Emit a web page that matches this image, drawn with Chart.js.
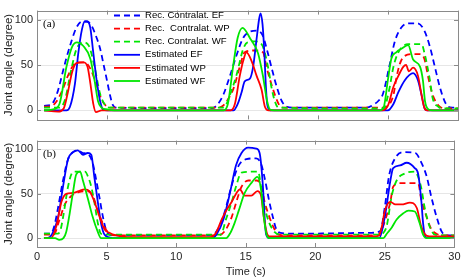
<!DOCTYPE html>
<html>
<head>
<meta charset="utf-8">
<script src="https://cdn.jsdelivr.net/npm/chart.js@4.4.0/dist/chart.umd.min.js"></script>
<style>
  html, body { margin: 0; padding: 0; background: #fff; }
  #wrap { position: relative; width: 464px; height: 280px; overflow: hidden; }
  canvas { position: absolute; left: 0; }
  #chartA { top: 0; }
  #chartB { top: 130px; }
</style>
</head>
<body>
<div id="wrap">
  <canvas id="chartA" width="464" height="130"></canvas>
  <canvas id="chartB" width="464" height="150"></canvas>
</div>
<script>
const xTicks = [0, 5, 10, 15, 20, 25, 30];
const yTicks = [0, 50, 100];
const seriesLabels = ['Rec. Contralat. EF', 'Rec.  Contralat. WP', 'Rec. Contralat. WF',
                      'Estimated EF', 'Estimated WP', 'Estimated WF'];
const seriesColors = ['#0000ff', '#ff0000', '#00e600', '#0000ff', '#ff0000', '#00e600'];
const seriesDashed = [true, true, true, false, false, false];

// panel (a)  [time s, angle deg]
const aRecEF = [[0.5,5],[1.0,6],[1.2,10],[1.5,22],[1.8,40],[2.1,58],[2.45,76],[2.8,91],[3.2,98],[3.55,98],[3.9,93],[4.2,82],[4.5,68],[4.75,50],[5.0,32],[5.2,17],[5.4,6],[5.6,3],[8,2.5],[12.5,2.5],[12.9,7],[13.3,18],[13.75,38],[14.2,60],[14.7,80],[15.2,87],[15.7,88],[16.1,82],[16.4,66],[16.75,45],[17.1,25],[17.45,10],[17.8,4],[18.2,3],[23.5,3],[23.95,6],[24.3,10],[24.65,18],[25.1,48],[25.5,76],[25.95,91],[26.5,96],[27.1,96],[27.6,88],[28.0,70],[28.35,48],[28.7,26],[29.05,10],[29.3,4],[29.6,3],[30,3]];
const aRecWP = [[0.5,4],[1.0,4.5],[1.4,10],[1.8,22],[2.2,38],[2.6,50],[3.0,53],[3.4,53],[3.8,46],[4.2,30],[4.6,12],[5.0,4],[5.3,3],[12.8,3],[13.25,5],[13.6,12],[14.0,24],[14.45,48],[14.8,64],[15.5,66],[16.1,64],[16.35,48],[16.7,29],[17.05,13],[17.3,5],[17.6,3],[24.5,3],[24.9,4],[25.4,17],[25.6,35],[25.85,51],[26.2,60],[26.8,62],[27.3,62],[27.6,57],[27.9,35],[28.2,17],[28.7,4],[29.2,2],[30,2]];
const aRecWF = [[0.5,3],[1.6,3],[2.0,12],[2.4,42],[2.8,67],[3.3,75],[3.7,71],[4.1,48],[4.5,18],[4.9,5],[5.2,3],[13.2,3],[13.5,7],[13.75,17],[14.2,38],[14.7,68],[15.0,75],[15.5,76],[16.0,73],[16.5,45],[16.7,26],[16.95,10],[17.2,3],[24.5,2],[24.7,2],[25.1,23],[25.4,48],[25.75,64],[26.45,73],[27.4,73],[27.6,64],[28.0,33],[28.2,13],[28.6,4],[29.0,2],[30,2]];
const aEstEF = [[0.5,0],[2.1,0],[2.35,4],[2.7,29],[2.95,64],[3.2,89],[3.4,98],[3.6,98],[3.8,91],[4.0,65],[4.25,33],[4.5,10],[4.7,1],[5.0,0],[14.0,0],[14.3,7],[14.58,20],[14.8,32],[15.17,35],[15.4,48],[15.65,79],[15.83,101],[15.93,107],[16.07,95],[16.2,64],[16.3,29],[16.4,7],[16.6,0],[25.0,0],[25.4,7],[25.75,20],[26.2,33],[26.8,41],[27.15,33],[27.4,17],[27.6,3],[27.8,0],[30,0]];
const aEstWP = [[0.5,0],[1.5,-1.5],[1.9,2],[2.2,20],[2.5,42],[2.8,52],[3.3,53],[3.6,48],[3.8,30],[4.0,8],[4.2,-2],[4.6,0],[13.8,0],[14.1,7],[14.45,38],[14.7,55],[14.93,64],[15.3,54],[15.65,38],[16.0,23],[16.24,4],[16.5,0],[24.6,0],[25.0,5],[25.4,26],[25.75,38],[26.1,48],[26.3,50],[26.5,43],[26.8,47],[27.15,38],[27.4,17],[27.6,3],[27.8,0],[30,0]];
const aEstWF = [[0.5,0],[1.15,1],[1.6,7],[2.1,48],[2.5,70],[2.85,75],[3.3,71],[3.8,57],[4.1,33],[4.35,10],[4.6,3],[5.0,1],[5.5,0],[13.3,0],[13.6,7],[13.97,48],[14.3,80],[14.65,91],[15.2,79],[15.75,63],[16.1,38],[16.4,10],[16.6,1],[16.9,0],[24.4,0],[24.7,3],[25.0,33],[25.25,57],[25.6,64],[25.97,68],[26.45,72],[26.8,56],[27.3,48],[27.5,33],[27.65,10],[27.9,1],[28.2,0],[30,0]];

// panel (b)
const bRecEF = [[0.5,5],[1.0,5],[1.28,16],[1.52,35],[1.87,65],[2.23,89],[2.6,97],[2.94,99],[3.3,96],[3.65,95],[4.0,85],[4.25,66],[4.5,45],[4.7,27],[4.95,10],[5.2,4],[5.6,3],[12.5,3],[13.0,10],[13.5,30],[14.0,60],[14.5,82],[15.05,89],[15.76,90],[16.1,84],[16.36,68],[16.7,41],[16.95,24],[17.2,10],[17.5,6],[18.5,5],[24.0,6],[24.67,8],[25.0,35],[25.3,70],[25.7,89],[26.33,97],[27.2,96],[27.6,86],[28.0,70],[28.35,46],[28.7,25],[29.1,7],[29.5,3],[30,3]];
const bRecWP = [[0.5,4],[1.2,4],[1.6,20],[2.0,38],[2.5,48],[3.0,52],[3.6,53],[4.0,48],[4.4,30],[4.8,14],[5.2,5],[5.6,3],[13.0,3],[13.5,8],[14.0,24],[14.35,42],[14.7,58],[15.2,65],[15.8,65],[16.1,60],[16.36,41],[16.7,24],[17.07,10],[17.4,4],[18,3],[24.4,3],[24.7,7],[25.1,24],[25.4,41],[25.6,58],[26.1,62],[27.4,62],[27.6,45],[28.0,24],[28.35,10],[28.7,5],[29.2,3],[30,3]];
const bRecWF = [[0.5,5],[1.5,5],[1.7,10],[1.9,26],[2.23,58],[2.5,73],[2.7,75],[3.45,75],[3.7,68],[3.9,58],[4.13,40],[4.37,17],[4.6,5],[5.0,4],[13.2,4],[13.6,22],[14.0,41],[14.3,58],[14.7,74],[15.9,75],[16.1,58],[16.36,35],[16.7,17],[17.07,7],[17.4,4],[24.7,4],[24.9,6],[25.14,14],[25.5,48],[25.85,65],[26.45,73],[27.15,75],[27.6,58],[27.87,34],[28.2,14],[28.6,4],[30,3]];
const bEstEF = [[0.5,0],[0.9,1],[1.16,7],[1.52,24],[1.87,58],[2.23,89],[2.58,97],[2.94,99],[3.3,94],[3.65,96],[3.9,94],[4.13,68],[4.37,41],[4.6,17],[4.85,4],[5.2,1],[5.6,0],[12.6,0],[12.9,4],[13.4,21],[13.87,51],[14.3,82],[14.7,96],[15.17,102],[15.76,101],[16.0,96],[16.24,58],[16.36,24],[16.47,4],[16.7,0],[24.6,0],[25.0,24],[25.4,65],[25.6,79],[26.1,82],[26.57,85],[27.15,79],[27.4,72],[27.63,41],[27.75,17],[27.9,2],[28.1,0],[30,0]];
const bEstWP = [[0.5,0],[1.0,0],[1.4,14],[1.76,41],[2.1,50],[2.58,51],[3.0,53],[3.42,55],[3.77,53],[4.13,41],[4.5,24],[4.85,10],[5.2,6],[5.7,3],[6.5,1],[12.5,1],[12.9,7],[13.27,21],[13.6,31],[14.0,41],[14.34,51],[14.58,55],[14.93,48],[15.4,48],[15.84,53],[16.1,48],[16.3,24],[16.5,7],[16.7,2],[24.4,2],[24.6,3],[24.8,14],[25.0,31],[25.4,41],[25.75,38],[26.2,38],[26.8,40],[27.3,34],[27.6,14],[27.9,4],[28.2,2],[30,2]];
const bEstWF = [[0.5,0],[1.3,0],[1.6,-2],[1.9,0],[2.1,7],[2.35,28],[2.58,51],[2.82,72],[3.1,75],[3.3,65],[3.65,45],[4.0,24],[4.37,7],[4.6,0],[13.6,0],[13.9,6],[14.2,17],[14.5,31],[14.93,51],[15.4,62],[15.84,69],[16.1,55],[16.3,24],[16.5,4],[16.7,0],[24.9,0],[25.14,5],[25.5,12],[25.85,21],[26.33,28],[26.7,31],[27.15,30],[27.5,17],[27.75,4],[28.0,0],[30,0]];

const FONT = "'Liberation Sans', Arial, Helvetica, sans-serif";
const TEXT = '#262626';

// box round the plot with inward ticks, like the matlab axes
const frame = {
  id: 'frame',
  afterDatasetsDraw(chart) {
    const {ctx, chartArea: a, scales} = chart;
    ctx.save();
    ctx.strokeStyle = '#8a8a8a';
    ctx.lineWidth = 1;
    ctx.strokeRect(Math.round(a.left) + 0.5, Math.round(a.top) + 0.5,
                   Math.round(a.right - a.left), Math.round(a.bottom - a.top));
    ctx.beginPath();
    xTicks.forEach(v => {
      const px = Math.round(scales.x.getPixelForValue(v)) + 0.5;
      ctx.moveTo(px, a.top); ctx.lineTo(px, a.top + 4);
      ctx.moveTo(px, a.bottom); ctx.lineTo(px, a.bottom - 4);
    });
    yTicks.forEach(v => {
      const py = Math.round(scales.y.getPixelForValue(v)) + 0.5;
      ctx.moveTo(a.left, py); ctx.lineTo(a.left + 4, py);
      ctx.moveTo(a.right, py); ctx.lineTo(a.right - 4, py);
    });
    ctx.stroke();
    ctx.fillStyle = '#000';
    ctx.font = "11px 'Liberation Serif', 'Times New Roman', serif";
    ctx.textBaseline = 'middle';
    ctx.fillText(chart.options.plugins.frame.tag, a.left + 6, a.top + 14);
    ctx.restore();
  }
};

const inLegend = {
  id: 'inLegend',
  afterDraw(chart) {
    if (!chart.options.plugins.inLegend.show) return;
    const {ctx} = chart;
    ctx.save();
    ctx.font = '9.6px ' + FONT;
    ctx.textBaseline = 'middle';
    chart.data.datasets.forEach((ds, i) => {
      const y = 15.5 + i * 13.1;
      ctx.strokeStyle = ds.borderColor;
      ctx.lineWidth = ds.borderWidth;
      ctx.setLineDash(ds.borderDash);
      ctx.beginPath();
      ctx.moveTo(114, y); ctx.lineTo(140, y);
      ctx.stroke();
      ctx.setLineDash([]);
      ctx.fillStyle = '#000';
      ctx.fillText(ds.label, 145, y);
    });
    ctx.restore();
  }
};

function makeChart(id, sets, tag, showX) {
  return new Chart(document.getElementById(id), {
    type: 'line',
    data: {
      datasets: sets.map((d, i) => ({
        label: seriesLabels[i],
        data: d.map(p => ({x: p[0], y: p[1]})),
        borderColor: seriesColors[i],
        borderWidth: 1.8,
        borderDash: seriesDashed[i] ? [6, 4] : [],
        pointRadius: 0,
        cubicInterpolationMode: 'monotone',
        fill: false,
        order: sets.length - i
      }))
    },
    options: {
      responsive: false,
      animation: false,
      layout: {padding: {top: showX ? 0 : 1, right: 6, left: 0, bottom: 0}},
      plugins: {
        legend: {display: false},
        tooltip: {enabled: false},
        frame: {tag: tag},
        inLegend: {show: !showX}
      },
      scales: {
        x: {
          type: 'linear', min: 0, max: 30,
          afterBuildTicks: s => { s.ticks = xTicks.map(v => ({value: v})); },
          afterFit: s => { s.height = showX ? 33 : 2; },
          grid: {display: false, drawTicks: false},
          border: {display: false},
          ticks: {display: showX, padding: 3.5, color: TEXT, maxRotation: 0,
                  font: {size: 11, family: FONT}},
          title: {display: showX, text: 'Time (s)', color: TEXT,
                  padding: {top: 0, bottom: 1.5}, font: {size: 11, family: FONT}}
        },
        y: {
          min: -10, max: 110,
          afterBuildTicks: s => { s.ticks = yTicks.map(v => ({value: v})); },
          afterFit: s => { s.width = 37; },
          grid: {color: '#e6e6e6', drawTicks: false},
          border: {display: false},
          ticks: {padding: 4, color: TEXT, font: {size: 11, family: FONT}},
          title: {display: true, text: 'Joint angle (degree)', color: TEXT,
                  padding: {top: 2, bottom: 0}, font: {size: 11.5, family: FONT}}
        }
      }
    },
    plugins: [frame, inLegend]
  });
}

makeChart('chartA', [aRecEF, aRecWP, aRecWF, aEstEF, aEstWP, aEstWF], '(a)', false);
makeChart('chartB', [bRecEF, bRecWP, bRecWF, bEstEF, bEstWP, bEstWF], '(b)', true);
</script>
</body>
</html>
